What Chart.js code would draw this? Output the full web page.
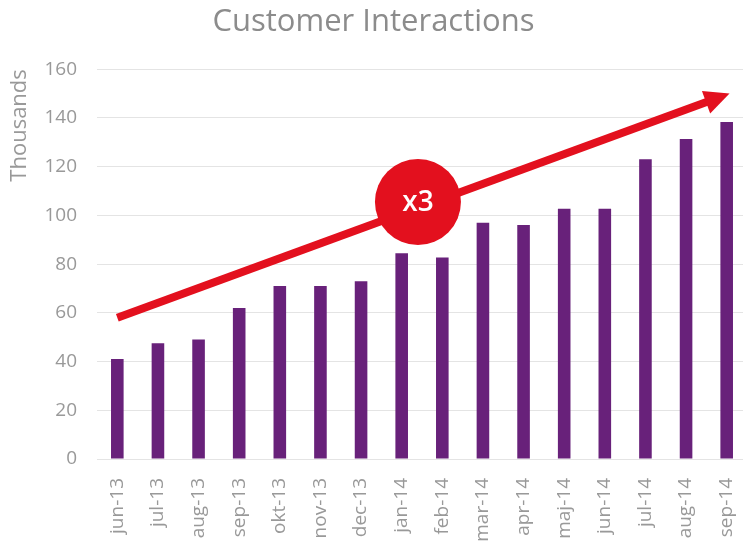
<!DOCTYPE html>
<html lang="en">
<head>
    <meta charset="UTF-8">
    <title>Customer Interactions</title>
    <script src="https://cdn.jsdelivr.net/npm/chart.js"></script>
    <style>
        body {
            margin: 0;
            background: white;
            overflow: hidden;
            font-family: "Open Sans", sans-serif;
        }

        .chart-container {
            width: 750px;
            height: 541px;
        }
    </style>
</head>
<body>
    <div class="chart-container">
        <canvas id="interactionsChart"></canvas>
    </div>

    <script>
        // months shown on the x axis
        const months = ['jun-13', 'jul-13', 'aug-13', 'sep-13', 'okt-13', 'nov-13', 'dec-13', 'jan-14',
            'feb-14', 'mar-14', 'apr-14', 'maj-14', 'jun-14', 'jul-14', 'aug-14', 'sep-14'];

        // interactions, in thousands
        const interactions = [41, 47.5, 49, 62, 71, 71, 73, 84.5, 82.7, 97, 96, 102.7, 102.7, 123, 131.3, 138.3];

        const yTicks = [0, 20, 40, 60, 80, 100, 120, 140, 160];

        // trend arrow and badge, in data space (category index, thousands)
        const arrowFrom = [0, 58];
        const arrowTo = [15.07, 150];
        const badgeAt = [7.4, 105.5];
        const badgeText = 'x3';

        const red = '#E3101E';
        const grey = '#999999';

        const trendArrow = {
            id: 'trendArrow',
            afterDatasetsDraw(chart) {
                const { ctx, scales: { x, y } } = chart;
                const x1 = x.getPixelForValue(arrowFrom[0]);
                const y1 = y.getPixelForValue(arrowFrom[1]);
                const x2 = x.getPixelForValue(arrowTo[0]);
                const y2 = y.getPixelForValue(arrowTo[1]);
                const ang = Math.atan2(y2 - y1, x2 - x1);
                const headLen = 25;
                const headHalf = 12;
                const bx = x2 - headLen * Math.cos(ang);
                const by = y2 - headLen * Math.sin(ang);

                ctx.save();
                ctx.strokeStyle = red;
                ctx.fillStyle = red;
                ctx.lineWidth = 8;
                ctx.beginPath();
                ctx.moveTo(x1, y1);
                ctx.lineTo(bx + 2 * Math.cos(ang), by + 2 * Math.sin(ang));
                ctx.stroke();

                ctx.beginPath();
                ctx.moveTo(x2, y2);
                ctx.lineTo(bx + headHalf * Math.sin(ang), by - headHalf * Math.cos(ang));
                ctx.lineTo(bx - headHalf * Math.sin(ang), by + headHalf * Math.cos(ang));
                ctx.closePath();
                ctx.fill();

                // badge
                const cx = x.getPixelForValue(badgeAt[0]);
                const cy = y.getPixelForValue(badgeAt[1]);
                ctx.beginPath();
                ctx.arc(cx, cy, 43, 0, Math.PI * 2);
                ctx.fill();
                ctx.fillStyle = 'white';
                ctx.font = '600 28px "Open Sans", sans-serif';
                ctx.textAlign = 'center';
                ctx.textBaseline = 'middle';
                ctx.fillText(badgeText, cx, cy + 1);
                ctx.restore();
            }
        };

        const chart = new Chart(document.getElementById('interactionsChart'), {
            type: 'bar',
            data: {
                labels: months,
                datasets: [{
                    label: 'Thousands',
                    data: interactions,
                    backgroundColor: '#68217A',
                    categoryPercentage: 1,
                    barPercentage: 0.31
                }]
            },
            options: {
                responsive: true,
                maintainAspectRatio: false,
                animation: false,
                layout: { padding: { left: 0, right: 3, top: 0, bottom: 0 } },
                scales: {
                    x: {
                        grid: { display: false, drawTicks: false },
                        border: { display: false },
                        ticks: {
                            color: grey,
                            font: { family: '"Open Sans", sans-serif', size: 19 },
                            minRotation: 90,
                            maxRotation: 90,
                            padding: 19,
                            autoSkip: false
                        },
                        afterFit(scale) {
                            scale.height = 82;
                            // let the plot run right up to the edge, like the original
                            scale.paddingLeft = 0;
                            scale.paddingRight = 0;
                        }
                    },
                    y: {
                        min: 0,
                        max: 160,
                        afterBuildTicks(scale) { scale.ticks = yTicks.map(v => ({ value: v })); },
                        grid: { color: '#E4E4E4', lineWidth: 1, drawTicks: false },
                        border: { display: false },
                        ticks: {
                            color: grey,
                            font: { family: '"Open Sans", sans-serif', size: 19 },
                            padding: 20
                        },
                        title: {
                            display: true,
                            text: 'Thousands',
                            align: 'end',
                            color: grey,
                            font: { family: '"Open Sans", sans-serif', size: 22 },
                            padding: { top: 7, bottom: 0 }
                        },
                        afterFit(scale) { scale.width = 97; }
                    }
                },
                plugins: {
                    legend: { display: false },
                    tooltip: { enabled: false },
                    title: {
                        display: true,
                        text: 'Customer Interactions',
                        color: '#8C8C8C',
                        font: { family: '"Open Sans", sans-serif', size: 31, weight: 'normal' },
                        padding: { top: 4, bottom: 28 }
                    }
                }
            },
            plugins: [trendArrow]
        });
    </script>
</body>
</html>
